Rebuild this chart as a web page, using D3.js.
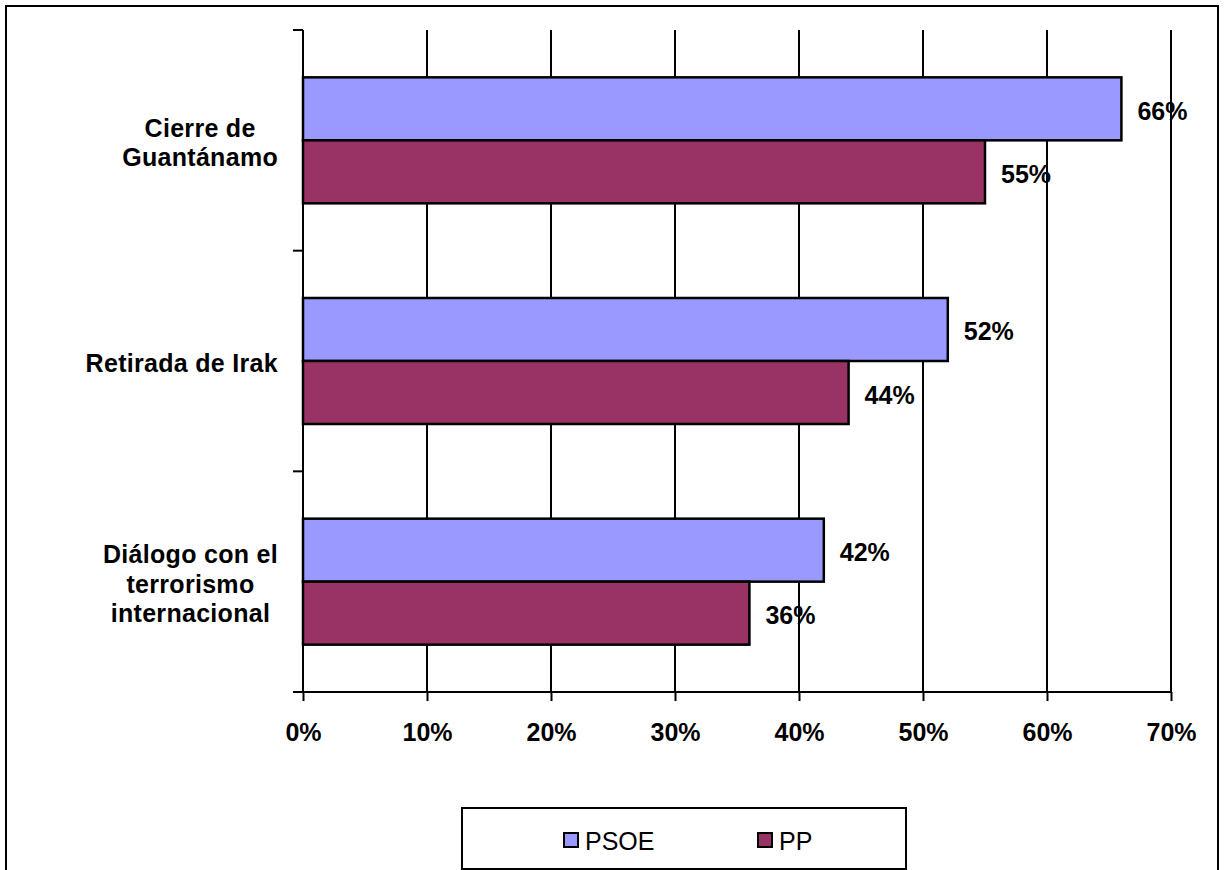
<!DOCTYPE html>
<html>
<head>
<meta charset="utf-8">
<script src="https://cdn.jsdelivr.net/npm/d3@7"></script>
<style>
  html, body { margin: 0; padding: 0; background: #fff; }
  svg { display: block; }
  text { font-family: "Liberation Sans", Arial, sans-serif; }
</style>
</head>
<body>
<svg id="chart" width="1226" height="870"></svg>
<script>
const categories = [
  ["Cierre de", "Guantánamo"],
  ["Retirada de Irak"],
  ["Diálogo con el", "terrorismo", "internacional"]
];
const series = ["PSOE", "PP"];
const psoeValues = [66, 52, 42];
const ppValues = [55, 44, 36];
const xTicks = [0, 10, 20, 30, 40, 50, 60, 70];
const colors = ["#9999FF", "#993366"];

const svg = d3.select("#chart");
const W = 1226, H = 870;
const plot = { left: 303, right: 1171, top: 30, bottom: 692 };

// outer frame
svg.append("rect").attr("x", 6).attr("y", 6).attr("width", 1212).attr("height", 900)
  .attr("fill", "none").attr("stroke", "#000").attr("stroke-width", 2);

const x = d3.scaleLinear().domain([0, 70]).range([plot.left, plot.right]);
const catIdx = categories.map((d, i) => i);
const y = d3.scaleBand().domain(catIdx).range([plot.top, plot.bottom])
  .paddingInner(0.429).paddingOuter(0.2145);
const ySub = d3.scaleBand().domain(series).range([0, y.bandwidth()]);
const yStep = d3.scaleBand().domain(catIdx).range([plot.top, plot.bottom]);

const g = svg.append("g");

// vertical gridlines
g.selectAll("line.grid").data(xTicks.slice(1)).enter().append("line")
  .attr("x1", d => x(d)).attr("x2", d => x(d))
  .attr("y1", plot.top).attr("y2", plot.bottom)
  .attr("stroke", "#000").attr("stroke-width", 2);

// bars
const data = [];
catIdx.forEach(i => {
  data.push({ c: i, s: "PSOE", v: psoeValues[i], color: colors[0] });
  data.push({ c: i, s: "PP", v: ppValues[i], color: colors[1] });
});
g.selectAll("rect.bar").data(data).enter().append("rect")
  .attr("x", x(0))
  .attr("y", d => y(d.c) + ySub(d.s))
  .attr("width", d => x(d.v) - x(0))
  .attr("height", ySub.bandwidth())
  .attr("fill", d => d.color)
  .attr("stroke", "#000").attr("stroke-width", 2.5);

// value labels
g.selectAll("text.val").data(data).enter().append("text")
  .attr("x", d => x(d.v) + 16)
  .attr("y", d => y(d.c) + ySub(d.s) + ySub.bandwidth() / 2 + 11)
  .attr("font-size", 25).attr("font-weight", "bold").attr("fill", "#000")
  .text(d => d.v + "%");

// x axis
const xAxis = d3.axisBottom(x).tickValues(xTicks).tickSize(9).tickPadding(22)
  .tickFormat(d => d + "%");
const ax = svg.append("g").attr("transform", `translate(0,${plot.bottom})`).call(xAxis);
ax.select(".domain").attr("stroke", "#000").attr("stroke-width", 2)
  .attr("d", `M${plot.left - 10},0H${plot.right}`);
ax.selectAll(".tick line").attr("stroke", "#000").attr("stroke-width", 2);
ax.selectAll(".tick text").attr("font-size", 25).attr("font-weight", "bold")
  .attr("font-family", "'Liberation Sans', Arial, sans-serif").attr("fill", "#000");

// y axis line and ticks
svg.append("line").attr("x1", plot.left).attr("x2", plot.left)
  .attr("y1", plot.top).attr("y2", plot.bottom)
  .attr("stroke", "#000").attr("stroke-width", 2);
const yTickPos = catIdx.map(i => yStep(i)).concat([plot.bottom]);
svg.selectAll("line.ytick").data(yTickPos).enter().append("line")
  .attr("x1", plot.left - 10).attr("x2", plot.left)
  .attr("y1", d => d).attr("y2", d => d)
  .attr("stroke", "#000").attr("stroke-width", 2);

// category labels
const lineH = 29.5;
catIdx.forEach(i => {
  const lines = categories[i];
  const cy = yStep(i) + yStep.bandwidth() / 2 + 2;
  const t = svg.append("text").attr("font-size", 25).attr("font-weight", "bold")
    .attr("letter-spacing", "0.3px").attr("fill", "#000");
  lines.forEach((ln, k) => {
    t.append("tspan").attr("y", cy + (k - (lines.length - 1) / 2) * lineH + 9)
      .attr("x", 0).text(ln);
  });
  // right-align block at x=278, center lines within block
  const widths = [];
  t.selectAll("tspan").each(function () { widths.push(this.getComputedTextLength()); });
  const bw = Math.max(...widths);
  const center = 278 - bw / 2;
  t.selectAll("tspan").attr("x", center).attr("text-anchor", "middle");
});

// legend
const leg = svg.append("g");
leg.append("rect").attr("x", 462).attr("y", 808).attr("width", 444).attr("height", 61)
  .attr("fill", "#fff").attr("stroke", "#000").attr("stroke-width", 2);
const legX = [564, 758];
series.forEach((s, i) => {
  leg.append("rect").attr("x", legX[i]).attr("y", 833).attr("width", 14).attr("height", 14)
    .attr("fill", colors[i]).attr("stroke", "#000").attr("stroke-width", 2);
  leg.append("text").attr("x", legX[i] + 21).attr("y", 850)
    .attr("font-size", 25).attr("fill", "#000").text(s);
});
</script>
</body>
</html>
